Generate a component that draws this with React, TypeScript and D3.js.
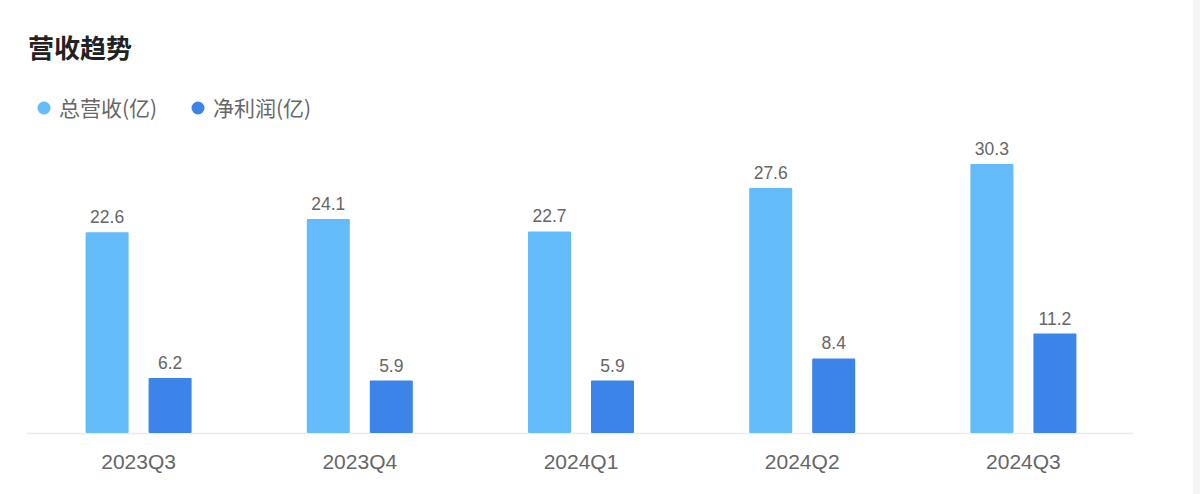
import React from "react";
import * as d3 from "d3";

const categories = ["2023Q3", "2023Q4", "2024Q1", "2024Q2", "2024Q3"];
const revenue = [22.6, 24.1, 22.7, 27.6, 30.3];
const netProfit = [6.2, 5.9, 5.9, 8.4, 11.2];
const seriesNames = ["总营收(亿)", "净利润(亿)"];
const colors = ["#63bbfa", "#3d84e8"];

const W = 1200;
const H = 494;
const baseY = 433;
const pxPerUnit = 8.88;
const yMax = 35;

export default function App() {
  const x = d3.scaleBand<string>().domain(categories).range([28, 1134]).padding(0);
  const y = d3.scaleLinear().domain([0, yMax]).range([baseY, baseY - yMax * pxPerUnit]);
  const barW = 43;
  const offsets = [-31.5, 31.5];
  const series = [revenue, netProfit];
  const numFont = "'Liberation Sans', 'Noto Sans CJK SC', sans-serif";
  const cjkFont = "'Noto Sans CJK SC', 'Liberation Sans', sans-serif";

  return (
    <svg width={W} height={H} style={{ position: "absolute", left: 0, top: 0, background: "#fff" }}>
      <rect x={1193} y={0} width={7} height={H} fill="#f5f5f6" />
      <text x={28} y={58} fontSize={26} fontWeight={700} fill="#222" fontFamily={cjkFont}>
        营收趋势
      </text>
      {seriesNames.map((n, i) => {
        const lx = i === 0 ? 44 : 198;
        return (
          <g key={n}>
            <circle cx={lx} cy={108} r={6.5} fill={colors[i]} />
            <text x={lx + 15} y={116} fontSize={21} fill="#666" fontFamily={cjkFont}>
              {n}
            </text>
          </g>
        );
      })}
      <line x1={27} x2={1133} y1={baseY + 0.5} y2={baseY + 0.5} stroke="#ececec" strokeWidth={1.5} />
      {categories.map((c) => {
        const cx = (x(c) as number) + x.bandwidth() / 2;
        return (
          <g key={c}>
            {series.map((s, si) => {
              const v = s[categories.indexOf(c)];
              const bx = cx + offsets[si] - barW / 2;
              return (
                <g key={si}>
                  <rect x={bx} y={y(v)} width={barW} height={baseY - y(v)} fill={colors[si]} rx={1} />
                  <text
                    x={bx + barW / 2}
                    y={y(v) - 9}
                    textAnchor="middle"
                    fontSize={17.5}
                    fill="#666"
                    fontFamily={numFont}
                  >
                    {v.toFixed(1)}
                  </text>
                </g>
              );
            })}
            <text x={cx} y={469} textAnchor="middle" fontSize={21} fill="#666" fontFamily={numFont}>
              {c}
            </text>
          </g>
        );
      })}
    </svg>
  );
}
